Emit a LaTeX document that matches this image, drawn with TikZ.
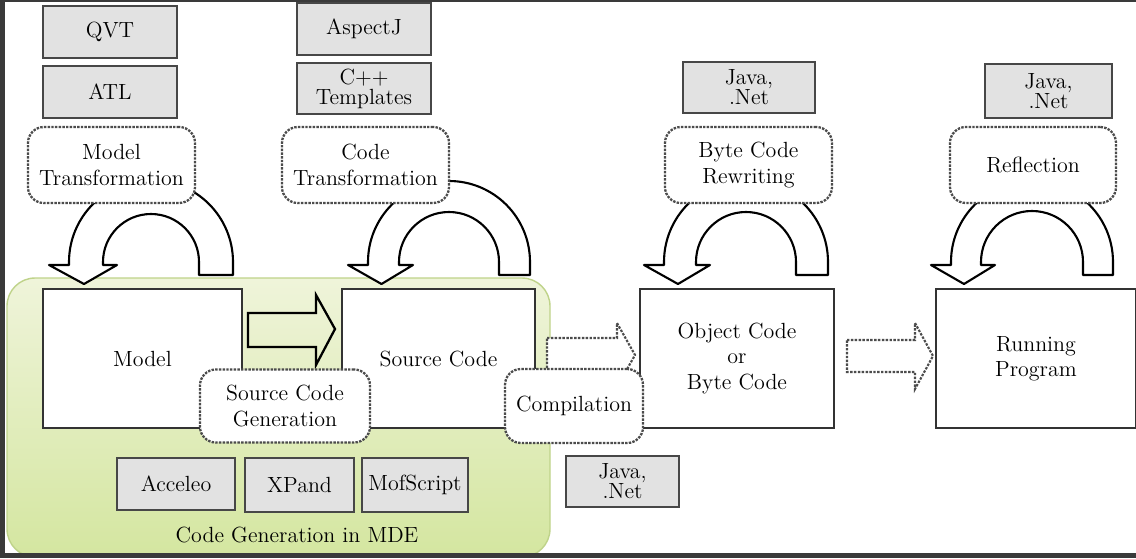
\documentclass[tikz,border=0pt]{standalone}
\definecolor{gtop}{HTML}{EFF4DA}
\definecolor{gbot}{HTML}{D4E6A0}
\definecolor{gedge}{HTML}{BFD38A}
\definecolor{toolfill}{HTML}{E2E2E2}
\definecolor{frame}{HTML}{3A3A3A}
\tikzset{
  txt/.style={font=\fontsize{12.5}{14.5}\selectfont, align=center},
  tool/.style={txt, draw=black!72, line width=1.2pt, fill=toolfill, inner sep=0pt},
  proc/.style={txt, draw=black!70, line width=1.3pt, dash pattern=on 1.4pt off 0.7pt, rounded corners=9pt, fill=white, inner sep=0pt},
  artefact/.style={txt, draw=black!80, line width=1.1pt, fill=white, inner sep=0pt},
  uarrow/.style={draw=black, line width=1.2pt, fill=white, line join=round},
  fatarrow/.style={draw=black, line width=1.3pt, line join=miter},
  dotarrow/.style={draw=black!70, line width=1.2pt, dash pattern=on 1.4pt off 0.8pt, fill=white}
}
% curved U-shaped hollow arrow: centre x, inner radius, outer radius
\newcommand{\uarr}[3]{%
  \draw[uarrow] (#1+#3,275) -- (#1+#3,262)
    arc[start angle=0,end angle=-180,radius=#3]
    -- (#1-#3,265) -- (#1-#3-20,265) -- (#1-#3/2-#2/2-2,284)
    -- (#1-#2+14,265) -- (#1-#2,265) -- (#1-#2,262)
    arc[start angle=180,end angle=360,radius=#2]
    -- (#1+#2,275) -- cycle;}
\begin{document}
\begin{tikzpicture}[x=0.02cm,y=-0.02cm]
\useasboundingbox (0,0) rectangle (1136,558);
\fill[frame] (0,0) rectangle (1136,558);
\fill[white] (5,2) rectangle (1136,553);

% code generation region
\shade[top color=gtop, bottom color=gbot, draw=gedge, line width=0.8pt, rounded corners=16pt]
  (7,278) rectangle (550,557);
\node[txt] (mdelabel) at (297,535) {Code Generation in MDE};

% curved transformation arrows
\uarr{151}{48}{82}
\uarr{449}{50}{81}
\uarr{746}{50}{82}
\uarr{1032}{51}{81}

% top tool boxes
\node[tool, minimum width=2.68cm, minimum height=1.04cm] (qvt) at (110,32) {QVT};
\node[tool, minimum width=2.68cm, minimum height=1.04cm] (atl) at (110,92) {ATL};
\node[tool, minimum width=2.68cm, minimum height=1.04cm] (aspectj) at (364,29) {AspectJ};
\node[tool, minimum width=2.68cm, minimum height=1.02cm] (cpp) at (364,88.5) {C++\\[-3pt]Templates};
\node[tool, minimum width=2.64cm, minimum height=1.02cm] (javab) at (749,87.5) {Java,\\[-3pt].Net};
\node[tool, minimum width=2.54cm, minimum height=1.08cm] (javar) at (1048.5,91) {Java,\\[-3pt].Net};

% transformation processes
\node[proc, minimum width=3.34cm, minimum height=1.52cm] (modeltr) at (111.5,165) {Model\\Transformation};
\node[proc, minimum width=3.34cm, minimum height=1.52cm] (codetr) at (365.5,165) {Code\\Transformation};
\node[proc, minimum width=3.34cm, minimum height=1.52cm] (bytetr) at (748.5,165) {Byte Code\\Rewriting};
\node[proc, minimum width=3.32cm, minimum height=1.52cm] (refl) at (1033,165) {Reflection};

% artefacts
\node[artefact, minimum width=3.98cm, minimum height=2.78cm] (model) at (142.5,358.5) {Model};
\node[artefact, minimum width=3.86cm, minimum height=2.78cm] (source) at (438.5,358.5) {Source Code};
\node[artefact, minimum width=3.88cm, minimum height=2.78cm] (object) at (737,358.5) {Object Code\\or\\Byte Code};
\node[artefact, minimum width=4.00cm, minimum height=2.78cm] (running) at (1036,358.5) {Running\\Program};

% generation arrow (model -> source code)
\coordinate (g1) at (335,329);
\draw[fatarrow] (248,313) -- (316,313) -- (316,295) -- (g1)
  -- (316,365) -- (316,347) -- (248,347) -- cycle;

% dotted arrows
\coordinate (d1) at (635,355);
\coordinate (d2) at (933,356);
\draw[dotarrow] (547,338) -- (617,338) -- (617,323) -- (d1)
  -- (617,387) -- (617,372) -- (547,372) -- cycle;
\draw[dotarrow] (847,340) -- (915,340) -- (915,323) -- (d2)
  -- (915,389) -- (915,372) -- (847,372) -- cycle;

% process boxes in the lower row
\node[proc, minimum width=3.40cm, minimum height=1.46cm] (srcgen) at (285,406) {Source Code\\Generation};
\node[proc, minimum width=2.76cm, minimum height=1.48cm] (compile) at (574,406) {Compilation};

% lower tool boxes
\node[tool, minimum width=2.36cm, minimum height=1.04cm] (acceleo) at (176,484) {Acceleo};
\node[tool, minimum width=2.18cm, minimum height=1.08cm] (xpand) at (299.5,485) {XPand};
\node[tool, minimum width=2.12cm, minimum height=1.08cm] (mofscript) at (415,485) {MofScript};
\node[tool, minimum width=2.26cm, minimum height=1.02cm] (javac) at (622.5,481.5) {Java,\\[-3pt].Net};

\fill[frame] (0,553) rectangle (1136,558);
\fill[frame] (0,0) rectangle (5,558);
\end{tikzpicture}
\end{document}
